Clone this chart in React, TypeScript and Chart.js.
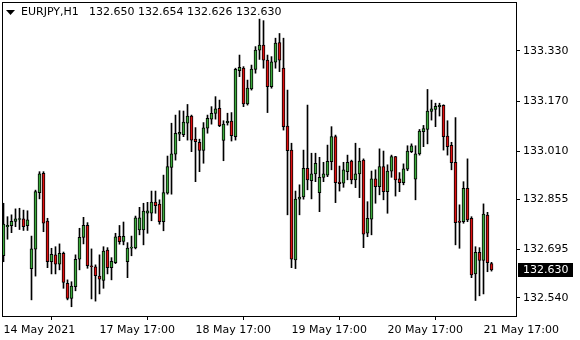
import React, { useEffect, useRef } from "react";
import { Chart, registerables } from "chart.js";

Chart.register(...registerables);

const symbolTitle = "EURJPY,H1";
const ohlcTitle = "132.650 132.654 132.626 132.630";
const lastPrice = 132.63;

const opens = [
  132.675, 132.768, 132.771, 132.785, 132.791, 132.793, 132.771, 132.634, 132.696, 132.877,
  132.939, 132.786, 132.656, 132.678, 132.648, 132.683, 132.587, 132.539, 132.576, 132.664,
  132.734, 132.772, 132.643, 132.640, 132.610, 132.596, 132.693, 132.637, 132.653, 132.737,
  132.721, 132.656, 132.699, 132.700, 132.758, 132.758, 132.811, 132.811, 132.847, 132.840,
  132.784, 132.875, 132.958, 133.000, 133.064, 133.062, 133.099, 133.122, 133.048, 133.038,
  133.012, 133.083, 133.112, 133.130, 133.147, 133.044, 133.101, 133.106, 133.056, 133.267,
  133.275, 133.161, 133.209, 133.271, 133.333, 133.349, 133.301, 133.216, 133.294, 133.357,
  133.275, 133.090, 133.013, 132.662, 132.856, 132.863, 132.955, 132.915, 132.937, 132.877,
  132.926, 132.933, 132.976, 133.056, 132.911, 132.907, 132.944, 132.978, 132.918, 132.937,
  132.981, 132.747, 132.792, 132.921, 132.896, 132.960, 132.880, 132.946, 132.992, 132.921,
  132.909, 132.952, 133.008, 132.920, 133.001, 133.072, 133.079, 133.137, 133.143, 133.152,
  133.156, 133.058, 133.028, 132.974, 132.786, 132.784, 132.891, 132.795, 132.617, 132.686,
  132.660, 132.805, 132.650,
];
const highs = [
  132.843, 132.800, 132.806, 132.825, 132.827, 132.821, 132.819, 132.738, 132.885, 132.944,
  132.944, 132.795, 132.699, 132.704, 132.713, 132.687, 132.598, 132.592, 132.678, 132.763,
  132.798, 132.781, 132.697, 132.646, 132.678, 132.704, 132.701, 132.669, 132.747, 132.772,
  132.783, 132.717, 132.738, 132.802, 132.830, 132.843, 132.846, 132.882, 132.882, 132.854,
  132.933, 132.994, 133.099, 133.125, 133.139, 133.138, 133.159, 133.125, 133.085, 133.048,
  133.101, 133.125, 133.152, 133.184, 133.173, 133.107, 133.131, 133.133, 133.275, 133.317,
  133.280, 133.237, 133.285, 133.344, 133.432, 133.427, 133.317, 133.312, 133.371, 133.386,
  133.371, 133.205, 133.035, 132.882, 132.902, 133.013, 133.157, 133.003, 133.003, 132.990,
  132.974, 133.029, 133.088, 133.061, 132.962, 132.974, 132.997, 132.981, 133.035, 133.019,
  132.985, 132.848, 132.946, 132.950, 133.017, 133.010, 132.966, 132.997, 132.993, 132.941,
  132.969, 133.027, 133.033, 133.027, 133.079, 133.092, 133.207, 133.173, 133.163, 133.163,
  133.158, 133.107, 133.038, 133.117, 132.838, 132.912, 132.985, 132.800, 132.704, 132.701,
  132.841, 132.814, 132.654,
];
const lows = [
  132.656, 132.728, 132.749, 132.768, 132.759, 132.756, 132.756, 132.534, 132.610, 132.857,
  132.752, 132.637, 132.617, 132.617, 132.630, 132.571, 132.534, 132.512, 132.563, 132.630,
  132.713, 132.635, 132.537, 132.530, 132.553, 132.571, 132.617, 132.598, 132.650, 132.712,
  132.710, 132.605, 132.675, 132.697, 132.742, 132.710, 132.747, 132.787, 132.811, 132.776,
  132.755, 132.872, 132.872, 132.981, 133.043, 133.056, 133.045, 133.008, 132.912, 132.944,
  132.971, 133.067, 133.096, 133.112, 133.088, 132.979, 133.093, 133.042, 133.045, 133.248,
  133.152, 133.157, 133.205, 133.259, 133.303, 133.275, 133.133, 133.211, 133.275, 133.264,
  133.077, 132.806, 132.637, 132.634, 132.806, 132.856, 132.886, 132.857, 132.912, 132.816,
  132.912, 132.928, 132.950, 132.845, 132.882, 132.894, 132.918, 132.905, 132.893, 132.861,
  132.701, 132.736, 132.742, 132.843, 132.870, 132.854, 132.811, 132.926, 132.866, 132.880,
  132.902, 132.947, 133.005, 132.854, 132.997, 133.024, 133.033, 133.109, 133.088, 133.122,
  133.013, 132.997, 132.950, 132.710, 132.699, 132.779, 132.784, 132.605, 132.532, 132.547,
  132.553, 132.624, 132.626,
];
const closes = [
  132.776, 132.772, 132.785, 132.793, 132.793, 132.768, 132.790, 132.697, 132.880, 132.937,
  132.779, 132.656, 132.680, 132.648, 132.683, 132.590, 132.539, 132.578, 132.664, 132.734,
  132.772, 132.643, 132.640, 132.611, 132.600, 132.690, 132.637, 132.657, 132.736, 132.720,
  132.737, 132.700, 132.703, 132.796, 132.796, 132.818, 132.819, 132.847, 132.835, 132.784,
  132.877, 132.960, 133.001, 133.067, 133.070, 133.103, 133.122, 133.045, 133.040, 133.012,
  133.084, 133.115, 133.131, 133.145, 133.091, 133.096, 133.105, 133.059, 133.271, 133.278,
  133.161, 133.211, 133.272, 133.333, 133.349, 133.301, 133.216, 133.295, 133.355, 133.301,
  133.088, 133.011, 132.664, 132.856, 132.863, 132.955, 132.918, 132.937, 132.971, 132.926,
  132.937, 132.977, 133.056, 132.909, 132.906, 132.950, 132.974, 132.918, 132.937, 132.978,
  132.744, 132.795, 132.921, 132.896, 132.960, 132.880, 132.946, 132.992, 132.918, 132.909,
  132.953, 133.010, 133.027, 133.001, 133.074, 133.082, 133.138, 133.145, 133.153, 133.156,
  133.056, 133.024, 132.973, 132.781, 132.782, 132.891, 132.790, 132.614, 132.686, 132.660,
  132.808, 132.653, 132.630,
];

const xTickIndex = [0, 24, 48, 72, 96, 120];
const xTickLabels = ["14 May 2021", "17 May 17:00", "18 May 17:00", "19 May 17:00", "20 May 17:00", "21 May 17:00"];
const yTicks = [133.33, 133.17, 133.01, 132.855, 132.695, 132.54];

const FONT = "DejaVu Sans";

export default function App() {
  const ref = useRef<HTMLCanvasElement | null>(null);

  useEffect(() => {
    document.body.style.margin = "0";
    const canvas = ref.current;
    if (!canvas) return;

    const wicks = highs.map((h, i) => ({ x: i, y: [lows[i], h] }));
    const bodies = opens.map((o, i) => ({ x: i, y: [o, closes[i]] }));
    const bodyColors = opens.map((o, i) => (closes[i] >= o ? "#3caa3c" : "#e01010"));

    const overlay = {
      id: "mtOverlay",
      afterDraw(chart: any) {
        const ctx = chart.ctx;
        const a = chart.chartArea;
        ctx.save();
        // frame
        ctx.strokeStyle = "#000";
        ctx.lineWidth = 1;
        ctx.strokeRect(a.left + 0.5, a.top + 0.5, a.right - a.left, a.bottom - a.top);
        // title triangle
        ctx.fillStyle = "#000";
        ctx.beginPath();
        ctx.moveTo(6, 10);
        ctx.lineTo(15, 10);
        ctx.lineTo(10.5, 15);
        ctx.closePath();
        ctx.fill();
        ctx.font = `11px "${FONT}"`;
        ctx.textBaseline = "middle";
        ctx.textAlign = "left";
        ctx.fillText(symbolTitle, 21, 12.5);
        ctx.fillText(ohlcTitle, 89, 12.5);
        // last price label
        const y = Math.round(chart.scales.y.getPixelForValue(lastPrice));
        ctx.fillStyle = "#000";
        ctx.fillRect(518, y - 7, 55, 14);
        ctx.fillStyle = "#fff";
        ctx.fillText(lastPrice.toFixed(3), 523, y + 0.5);
        ctx.restore();
      },
    };

    const chart = new Chart(canvas, {
      type: "bar",
      data: {
        datasets: [
          {
            data: wicks as any,
            backgroundColor: "#000",
            borderWidth: 0,
            barThickness: 1,
            grouped: false,
            order: 2,
          } as any,
          {
            data: bodies as any,
            backgroundColor: bodyColors,
            borderColor: "#000",
            borderWidth: 1,
            borderSkipped: false,
            barThickness: 3,
            minBarLength: 1,
            grouped: false,
            order: 1,
          } as any,
        ],
      },
      options: {
        responsive: false,
        animation: false,
        devicePixelRatio: 1,
        layout: { padding: { left: 2, top: 2, right: 0, bottom: 0 } },
        plugins: { legend: { display: false }, tooltip: { enabled: false } },
        scales: {
          x: {
            type: "linear",
            offset: false,
            min: -0.375,
            max: 128.125,
            grid: { drawOnChartArea: false, drawTicks: true, tickLength: 4, color: "#000" },
            border: { display: false },
            afterBuildTicks: (s: any) => {
              s.ticks = xTickIndex.map((v) => ({ value: v }));
            },
            afterFit: (s: any) => {
              s.height = 24;
              s.paddingLeft = 0;
              s.paddingRight = 0;
            },
            ticks: {
              autoSkip: false,
              maxRotation: 0,
              minRotation: 0,
              align: "start",
              padding: 4,
              color: "#000",
              font: { family: FONT, size: 11 },
              callback: (v: any) => {
                const k = xTickIndex.indexOf(Number(v));
                return k >= 0 ? xTickLabels[k] : "";
              },
            },
          },
          y: {
            type: "linear",
            position: "right",
            min: 132.4824,
            max: 133.4867,
            grid: { drawOnChartArea: false, drawTicks: true, tickLength: 4, color: "#000" },
            border: { display: false },
            afterBuildTicks: (s: any) => {
              s.ticks = yTicks.map((v) => ({ value: v }));
            },
            afterFit: (s: any) => {
              s.width = 64;
              s.paddingTop = 0;
              s.paddingBottom = 0;
            },
            ticks: {
              padding: 3,
              color: "#000",
              font: { family: FONT, size: 11 },
              callback: (v: any) => Number(v).toFixed(3),
            },
          },
        },
      } as any,
      plugins: [overlay],
    });

    return () => chart.destroy();
  }, []);

  return (
    <div style={{ width: 580, height: 340, background: "#fff" }}>
      <canvas ref={ref} width={580} height={340} style={{ display: "block" }} />
    </div>
  );
}
